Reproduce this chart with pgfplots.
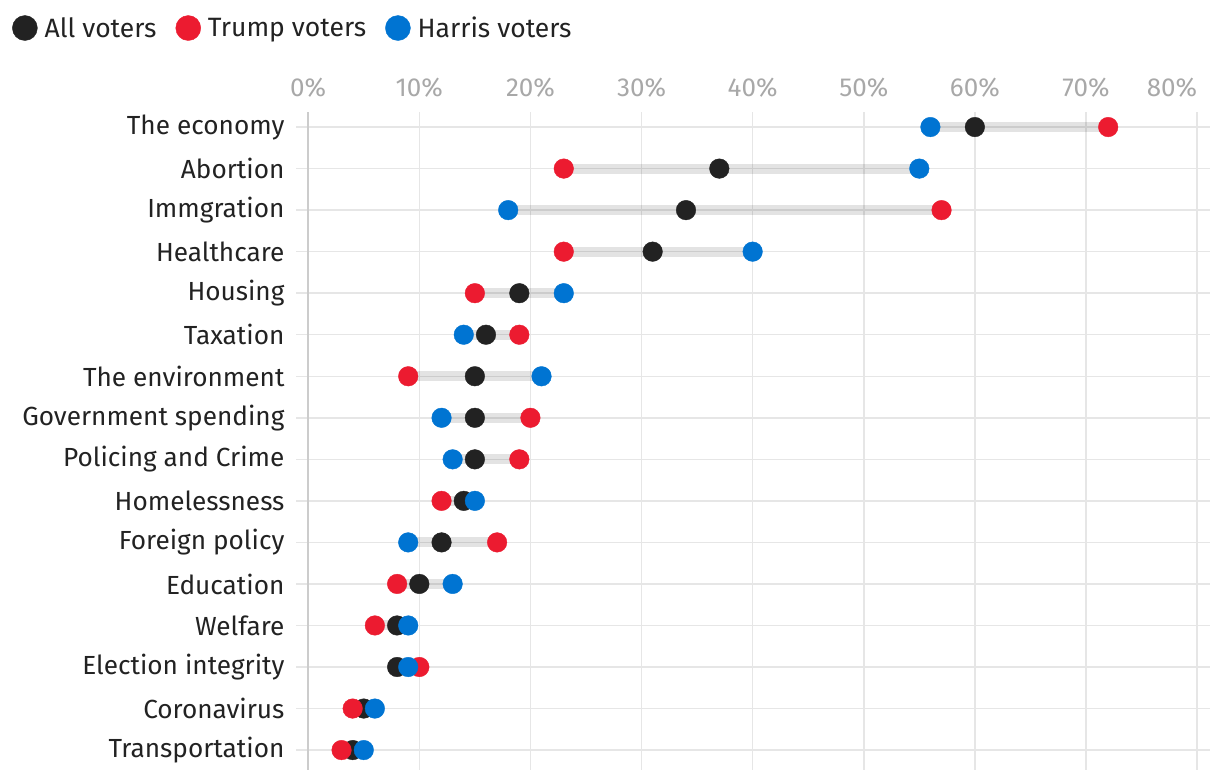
\documentclass[border=0pt]{standalone}
\usepackage{fontspec}
\setmainfont{Fira Sans}
\usepackage{pgfplots}
\usepackage{pgfplotstable}
\pgfplotsset{compat=1.18}
\definecolor{cblack}{HTML}{222222}
\definecolor{cred}{HTML}{EC1B30}
\definecolor{cblue}{HTML}{0074D2}
\definecolor{cgrid}{HTML}{E6E6E6}
\definecolor{caxis}{HTML}{CCCCCC}
\definecolor{ctick}{HTML}{A8A8A8}

\pgfplotstableread{
y all trump harris
0 60 72 56
1 37 23 55
2 34 57 18
3 31 23 40
4 19 15 23
5 16 19 14
6 15 9 21
7 15 20 12
8 15 19 13
9 14 12 15
10 12 17 9
11 10 8 13
12 8 6 9
13 8 10 9
14 5 4 6
15 4 3 5
}\data

\pgfplotstableread{
x y
56 0
72 0
nan nan
23 1
55 1
nan nan
18 2
57 2
nan nan
23 3
40 3
nan nan
15 4
23 4
nan nan
14 5
19 5
nan nan
9 6
21 6
nan nan
12 7
20 7
nan nan
13 8
19 8
nan nan
12 9
15 9
nan nan
9 10
17 10
nan nan
8 11
13 11
nan nan
6 12
9 12
nan nan
8 13
10 13
nan nan
4 14
6 14
nan nan
3 15
5 15
}\bars

\begin{document}
\begin{tikzpicture}
\path[use as bounding box] (0pt,0pt) rectangle (1220pt,780pt);
\begin{axis}[
  at={(296pt,10pt)}, anchor=south west,
  scale only axis, width=914.4pt, height=657.9pt,
  xmin=-1.1, xmax=81.2, ymin=-0.36, ymax=15.48,
  y dir=reverse,
  axis line style={draw=none},
  major tick length=0pt,
  xmajorgrids, ymajorgrids,
  grid style={cgrid, line width=1.5pt},
  xtick={0,10,...,80},
  xticklabel pos=upper,
  xticklabels={0\%,10\%,20\%,30\%,40\%,50\%,60\%,70\%,\makebox[0pt][r]{80\%}},
  xticklabel style={font=\fontsize{26}{30}\selectfont, text=ctick, anchor=south, yshift=11pt},
  extra x ticks={0},
  extra x tick labels={},
  extra x tick style={grid style={caxis, line width=1.5pt}},
  ytick={0,...,15},
  yticklabels={The economy, Abortion, Immgration, Healthcare, Housing, Taxation, The environment, Government spending, Policing and Crime, Homelessness, Foreign policy, Education, Welfare, Election integrity, Coronavirus, Transportation},
  yticklabel style={font=\fontsize{26.2}{30}\selectfont, text=cblack, anchor=east, xshift=-8pt},
  legend columns=3,
  legend style={at={(axis description cs:-0.3106,1.1278)}, anchor=west, draw=none, fill=none, inner sep=0pt,
    font=\fontsize{26.5}{30}\selectfont, text=cblack,
    /tikz/every odd column/.append style={column sep=5pt},
    /tikz/every even column/.append style={column sep=17pt}},
  legend image code/.code={\fill[#1] (12.5pt,0pt) circle (12.5pt);},
  clip=false,
]
\addplot[black, draw opacity=0.11, line width=10pt, unbounded coords=jump, forget plot] table[x=x,y=y] {\bars};
\addplot[only marks, mark=*, mark size=9.8pt, color=cblack, fill=cblack, mark options={draw=cblack, fill=cblack, line width=0.4pt}] table[x=all,y=y] {\data};
\addlegendentry{All voters}
\addplot[only marks, mark=*, mark size=9.8pt, color=cred, fill=cred, mark options={draw=cred, fill=cred, line width=0.4pt}] table[x=trump,y=y] {\data};
\addlegendentry{Trump voters}
\addplot[only marks, mark=*, mark size=9.8pt, color=cblue, fill=cblue, mark options={draw=cblue, fill=cblue, line width=0.4pt}] table[x=harris,y=y] {\data};
\addlegendentry{Harris voters}
\end{axis}
\end{tikzpicture}
\end{document}
